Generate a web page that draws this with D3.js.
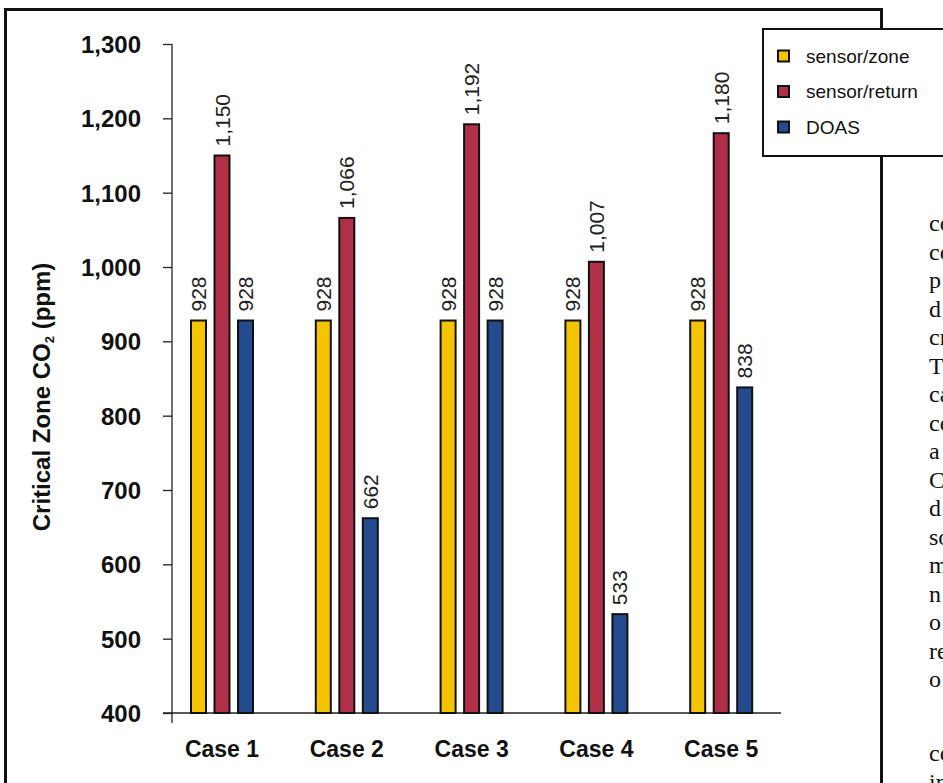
<!DOCTYPE html>
<html>
<head>
<meta charset="utf-8">
<script src="https://cdn.jsdelivr.net/npm/d3@7"></script>
<style>
  html, body { margin: 0; padding: 0; background: #fff; overflow: hidden; }
  svg { display: block; }
</style>
</head>
<body>
<script>
// Critical zone CO2 for five cases, three ventilation control strategies
const cases = ["Case 1", "Case 2", "Case 3", "Case 4", "Case 5"];
const seriesNames = ["sensor/zone", "sensor/return", "DOAS"];
const sensorZone = [928, 928, 928, 928, 928];
const sensorReturn = [1150, 1066, 1192, 1007, 1180];
const doas = [928, 662, 928, 533, 838];
const yTicks = [400, 500, 600, 700, 800, 900, 1000, 1100, 1200, 1300];
const seriesColors = ["#F5C400", "#B03048", "#234B8E"];
// Running text of the page beside the figure (clipped at the page edge)
const sideLines = ["co", "co", "p", "d", "cr", "T", "ca", "co", "a", "C", "d", "so", "m", "n", "o", "re", "o"];
const sideLines2 = ["co", "in"];

const W = 943, H = 783;
const svg = d3.select("body").append("svg").attr("width", W).attr("height", H);

const sans = "'Liberation Sans', Arial, sans-serif";

// page frame around the figure
svg.append("rect")
  .attr("x", 5.5).attr("y", 9.5).attr("width", 876).attr("height", 820)
  .attr("fill", "none").attr("stroke", "#111").attr("stroke-width", 3);

const y = d3.scaleLinear().domain([400, 1300]).range([713, 44]);
const x0 = d3.scaleBand().domain(cases).range([159.6, 783.6]);
const x1 = d3.scaleBand().domain(seriesNames).range([-32, 32]).paddingInner(0.277);
const color = d3.scaleOrdinal().domain(seriesNames).range(seriesColors);

const rows = cases.map((c, i) => ({
  name: c,
  vals: [
    { s: seriesNames[0], v: sensorZone[i] },
    { s: seriesNames[1], v: sensorReturn[i] },
    { s: seriesNames[2], v: doas[i] }
  ]
}));

// y axis
const yAxis = d3.axisLeft(y).tickValues(yTicks).tickFormat(d3.format(",")).tickSize(9).tickPadding(22);
const yg = svg.append("g").attr("transform", "translate(172,0)").call(yAxis);
yg.select(".domain").remove();
yg.selectAll(".tick line").attr("stroke", "#222").attr("stroke-width", 1.3);
yg.selectAll(".tick text")
  .attr("font-family", sans).attr("font-weight", "bold").attr("font-size", 24)
  .attr("fill", "#111").attr("dy", "0.36em");
svg.append("line")
  .attr("x1", 172).attr("x2", 172).attr("y1", y(1300)).attr("y2", y(400) + 10)
  .attr("stroke", "#222").attr("stroke-width", 1.3);

// baseline
svg.append("line")
  .attr("x1", 163).attr("x2", 781).attr("y1", y(400)).attr("y2", y(400))
  .attr("stroke", "#222").attr("stroke-width", 1.5);

// x labels
const xAxis = d3.axisBottom(x0).tickSize(0).tickPadding(28);
const xg = svg.append("g").attr("transform", `translate(0,${y(400)})`).call(xAxis);
xg.select(".domain").remove();
xg.selectAll(".tick text")
  .attr("font-family", sans).attr("font-weight", "bold").attr("font-size", 23)
  .attr("fill", "#111");

// bars
const groups = svg.append("g").selectAll("g.case").data(rows).join("g")
  .attr("class", "case")
  .attr("transform", d => `translate(${x0(d.name) + x0.bandwidth() / 2},0)`);

groups.selectAll("rect").data(d => d.vals).join("rect")
  .attr("x", d => x1(d.s) + 1)
  .attr("width", x1.bandwidth() - 2)
  .attr("y", d => y(d.v))
  .attr("height", d => y(400) - y(d.v))
  .attr("fill", d => color(d.s))
  .attr("stroke", "#111").attr("stroke-width", 2);

// value labels, rotated
groups.selectAll("text.val").data(d => d.vals).join("text")
  .attr("class", "val")
  .attr("transform", d => `translate(${x1(d.s) + x1.bandwidth() / 2},${y(d.v) - 9}) rotate(-90)`)
  .attr("text-anchor", "start")
  .attr("dy", "0.36em")
  .attr("font-family", sans).attr("font-size", 21).attr("fill", "#222")
  .text(d => d3.format(",")(d.v));

// y title
const yt = svg.append("text")
  .attr("transform", "translate(50,397) rotate(-90)")
  .attr("text-anchor", "middle")
  .attr("font-family", sans).attr("font-weight", "bold").attr("font-size", 24)
  .attr("fill", "#111");
yt.append("tspan").text("Critical Zone CO");
yt.append("tspan").attr("font-size", 13).attr("dy", 4).text("2");
yt.append("tspan").attr("dy", -4).text(" (ppm)");

// legend
const lg = svg.append("g");
lg.append("rect")
  .attr("x", 763).attr("y", 29).attr("width", 220).attr("height", 127)
  .attr("fill", "#fff").attr("stroke", "#111").attr("stroke-width", 2);
const items = lg.selectAll("g.item").data(seriesNames).join("g")
  .attr("class", "item")
  .attr("transform", (d, i) => `translate(777,${56 + i * 35.5})`);
items.append("rect")
  .attr("x", 1).attr("y", -5.5).attr("width", 11).attr("height", 11)
  .attr("fill", d => color(d)).attr("stroke", "#111").attr("stroke-width", 2);
items.append("text")
  .attr("x", 29).attr("dy", "0.36em")
  .attr("font-family", sans).attr("font-size", 19).attr("fill", "#111")
  .text(d => d);

// running text beside the figure
const serif = "'Liberation Serif', 'Times New Roman', serif";
svg.append("g").selectAll("text").data(sideLines).join("text")
  .attr("x", 929).attr("y", (d, i) => 231 + i * 28.5)
  .attr("font-family", serif).attr("font-size", 24).attr("fill", "#111")
  .text(d => d);
svg.append("g").selectAll("text").data(sideLines2).join("text")
  .attr("x", 929).attr("y", (d, i) => 761 + i * 28.5)
  .attr("font-family", serif).attr("font-size", 24).attr("fill", "#111")
  .text(d => d);
</script>
</body>
</html>
